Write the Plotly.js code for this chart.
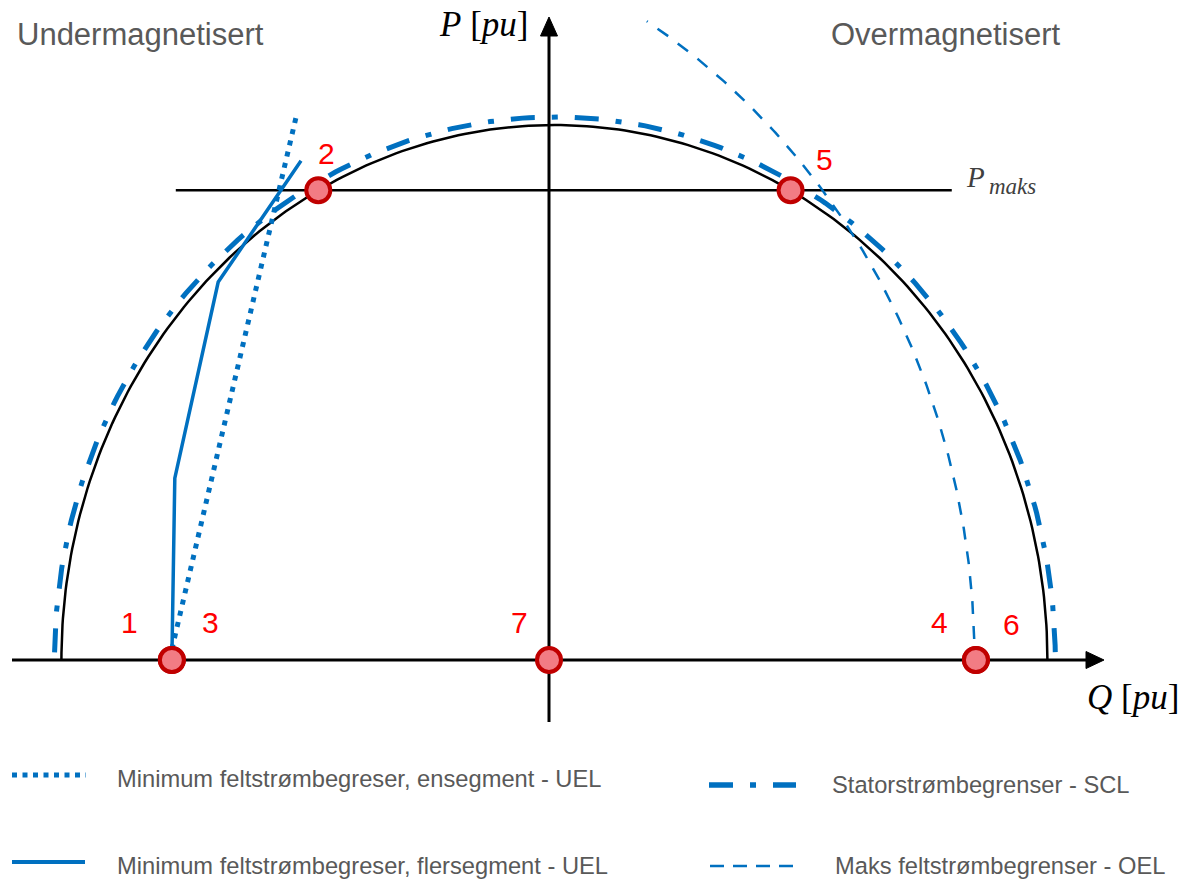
<!DOCTYPE html>
<html>
<head>
<meta charset="utf-8">
<script src="https://cdn.plot.ly/plotly-3.0.1.min.js"></script>
<style>
  html, body { margin: 0; padding: 0; background: #ffffff; }
  #chart { width: 1188px; height: 883px; }
</style>
</head>
<body>
<div id="chart"></div>
<script>
// ---------------- DATA (Q/P in pu) ----------------
// Arcs: [centre Q, radius, start angle (deg), end angle (deg)]
const capabilityArc = [0.011, 1.000, 0, 180];      // black capability circle
const sclArc        = [0.012, 1.015, 179.2, 0.8];  // stator current limiter (SCL)
const oelArc        = [-0.542, 1.405, 1.6, 58.2];  // over-excitation limiter (OEL)

// UEL single segment (dotted)
const uelSingleQ = [-0.765, -0.513];
const uelSingleP = [0.02, 1.015];
// UEL multi segment (solid)
const uelMultiQ = [-0.765, -0.759, -0.671, -0.503];
const uelMultiP = [0.0, 0.340, 0.7065, 0.933];

// P max line
const pMaks = 0.878;
const pMaksQ = [-0.757, 0.817];

// Operating points
const pointLabels = ['1', '2', '3', '4', '5', '6', '7'];
const pointQ = [-0.765, -0.468, -0.765, 0.866, 0.490, 0.866, 0.0];
const pointP = [0.0, 0.878, 0.0, 0.0, 0.878, 0.0, 0.0];

// Texts
const regionLabels = ['Undermagnetisert', 'Overmagnetisert'];
const legendLabels = [
  'Minimum feltstrømbegreser, ensegment - UEL',
  'Minimum feltstrømbegreser, flersegment - UEL',
  'Statorstrømbegrenser - SCL',
  'Maks feltstrømbegrenser - OEL'
];
const axisLabels = ['<i>Q</i> [<i>pu</i>]', '<i>P</i> [<i>pu</i>]'];
const pMaksLabel = ['<i>P</i>', '<i>maks</i>'];

// ---------------- GEOMETRY / STYLE ----------------
const W = 1188, H = 883;
const OX = 549, OY = 660;        // pixel position of origin
const SX = 493, SY = 535;        // pixels per pu
const BLUE = '#0070C0';
const RED = '#FF0000';
const GREY = '#595959';
const SANS = 'Liberation Sans, Arial, sans-serif';
const SERIF = 'Liberation Serif, Times New Roman, serif';

const dq = v => (v - OX) / SX;     // pixel x -> Q
const dp = v => (OY - v) / SY;     // pixel y -> P

function arc(def) {
  const [c, r, a0, a1] = def;
  const q = [], p = [];
  const n = 240;
  for (let i = 0; i <= n; i++) {
    const a = (a0 + (a1 - a0) * i / n) * Math.PI / 180;
    q.push(c + r * Math.cos(a));
    p.push(r * Math.sin(a));
  }
  return [q, p];
}
const capA = arc(capabilityArc);
const sclA = arc(sclArc);
const oelA = arc(oelArc);

const traces = [
  { x: capA[0], y: capA[1], mode: 'lines', line: { color: '#000000', width: 2.5 }, hoverinfo: 'skip' },
  { x: sclA[0], y: sclA[1], mode: 'lines', name: legendLabels[2],
    line: { color: BLUE, width: 5, dash: '24px,17px,6px,17px' }, hoverinfo: 'skip' },
  { x: oelA[0], y: oelA[1], mode: 'lines', name: legendLabels[3],
    line: { color: BLUE, width: 2.5, dash: '13px,12px' }, hoverinfo: 'skip' },
  { x: uelSingleQ, y: uelSingleP, mode: 'lines', name: legendLabels[0],
    line: { color: BLUE, width: 5, dash: '5px,6.5px' }, hoverinfo: 'skip' },
  { x: uelMultiQ, y: uelMultiP, mode: 'lines', name: legendLabels[1],
    line: { color: BLUE, width: 3.5 }, hoverinfo: 'skip' },
  { x: pointQ, y: pointP, mode: 'markers',
    marker: { size: 24, color: '#F27C84', line: { color: '#C00000', width: 4 } }, hoverinfo: 'skip' }
];

const px = v => v / W;             // pixel x -> paper
const py = v => 1 - v / H;         // pixel y -> paper

function pathData(pts) {
  return 'M' + pts.map(p => dq(p[0]) + ',' + dp(p[1])).join('L') + 'Z';
}

const shapes = [
  // Q axis
  { type: 'line', layer: 'below', xref: 'x', yref: 'y', x0: dq(12), x1: dq(1092), y0: 0, y1: 0,
    line: { color: '#000000', width: 3 } },
  // P axis
  { type: 'line', layer: 'below', xref: 'x', yref: 'y', x0: 0, x1: 0, y0: dp(722), y1: dp(30),
    line: { color: '#000000', width: 3 } },
  // arrowheads
  { type: 'path', layer: 'below', xref: 'x', yref: 'y',
    path: pathData([[1104, 660], [1086, 651.5], [1086, 668.5]]),
    fillcolor: '#000000', line: { color: '#000000', width: 1 } },
  { type: 'path', layer: 'below', xref: 'x', yref: 'y',
    path: pathData([[549, 17], [540.5, 36], [557.5, 36]]),
    fillcolor: '#000000', line: { color: '#000000', width: 1 } },
  // P maks line
  { type: 'line', layer: 'below', xref: 'x', yref: 'y', x0: pMaksQ[0], x1: pMaksQ[1], y0: pMaks, y1: pMaks,
    line: { color: '#000000', width: 2.5 } },
  // legend samples
  { type: 'line', xref: 'paper', yref: 'paper', x0: px(12), x1: px(86), y0: py(775), y1: py(775),
    line: { color: BLUE, width: 5, dash: '5px,5.5px' } },
  { type: 'line', xref: 'paper', yref: 'paper', x0: px(12), x1: px(85), y0: py(862), y1: py(862),
    line: { color: BLUE, width: 4 } },
  { type: 'line', xref: 'paper', yref: 'paper', x0: px(709), x1: px(796), y0: py(785), y1: py(785),
    line: { color: BLUE, width: 5.5, dash: '24px,17px,6px,17px' } },
  { type: 'line', xref: 'paper', yref: 'paper', x0: px(710), x1: px(795), y0: py(866), y1: py(866),
    line: { color: BLUE, width: 2.5, dash: '14px,9px' } }
];

// Label offsets (pixels) relative to each point
const labelShift = {
  '1': [-42, 38], '2': [8, 37], '3': [39, 38], '4': [-36, 38],
  '5': [34, 31], '6': [36, 36], '7': [-30, 38]
};

const annotations = [];
pointLabels.forEach((lab, i) => {
  annotations.push({
    x: pointQ[i], y: pointP[i], xref: 'x', yref: 'y', text: lab, showarrow: false,
    xshift: labelShift[lab][0], yshift: labelShift[lab][1],
    xanchor: 'center', yanchor: 'middle',
    font: { family: SANS, size: 30, color: RED }
  });
});

// axis titles
annotations.push({ xref: 'paper', yref: 'paper', x: px(1181), y: py(697), xanchor: 'right', yanchor: 'middle',
  text: axisLabels[0], showarrow: false, font: { family: SERIF, size: 35, color: '#000000' } });
annotations.push({ xref: 'paper', yref: 'paper', x: px(530), y: py(24), xanchor: 'right', yanchor: 'middle',
  text: axisLabels[1], showarrow: false, font: { family: SERIF, size: 35, color: '#000000' } });
// P_maks label (main letter + subscript)
annotations.push({ xref: 'paper', yref: 'paper', x: px(964), y: py(177), xanchor: 'left', yanchor: 'middle',
  text: pMaksLabel[0], showarrow: false, font: { family: SERIF, size: 29, color: '#404040' } });
annotations.push({ xref: 'paper', yref: 'paper', x: px(987), y: py(186), xanchor: 'left', yanchor: 'middle',
  text: pMaksLabel[1], showarrow: false, font: { family: SERIF, size: 23, color: '#404040' } });

// region labels
annotations.push({ xref: 'paper', yref: 'paper', x: px(15), y: py(34), xanchor: 'left', yanchor: 'middle',
  text: regionLabels[0], showarrow: false, font: { family: SANS, size: 31, color: GREY } });
annotations.push({ xref: 'paper', yref: 'paper', x: px(829), y: py(34), xanchor: 'left', yanchor: 'middle',
  text: regionLabels[1], showarrow: false, font: { family: SANS, size: 31, color: GREY } });

// legend texts
const legendPos = [[115, 779], [115, 866], [830, 785], [833, 866]];
legendLabels.forEach((t, i) => {
  annotations.push({ xref: 'paper', yref: 'paper', x: px(legendPos[i][0]), y: py(legendPos[i][1]),
    xanchor: 'left', yanchor: 'middle', text: t, showarrow: false,
    font: { family: SANS, size: 23.7, color: GREY } });
});

const layout = {
  width: W, height: H,
  margin: { l: 0, r: 0, t: 0, b: 0, pad: 0 },
  paper_bgcolor: '#ffffff', plot_bgcolor: '#ffffff',
  showlegend: false,
  xaxis: { range: [-OX / SX, (W - OX) / SX], visible: false, showgrid: false, zeroline: false, fixedrange: true },
  yaxis: { range: [-(H - OY) / SY, OY / SY], visible: false, showgrid: false, zeroline: false, fixedrange: true },
  shapes: shapes,
  annotations: annotations
};

Plotly.newPlot('chart', traces, layout, { staticPlot: true, displayModeBar: false });
</script>
</body>
</html>
